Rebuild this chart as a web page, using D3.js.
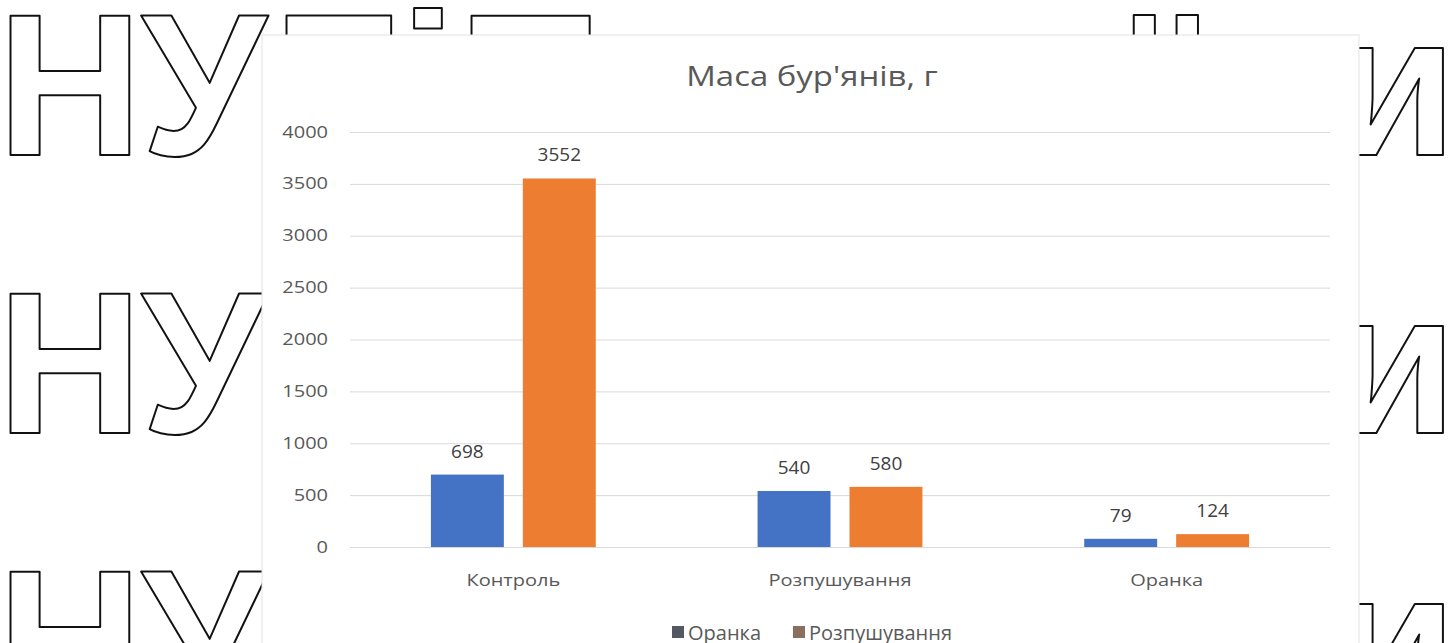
<!DOCTYPE html>
<html>
<head>
<meta charset="utf-8">
<script src="https://cdn.jsdelivr.net/npm/d3@7"></script>
<style>
  body { margin: 0; background: #fff; }
  svg { display: block; }
</style>
</head>
<body>
<div id="chart"></div>
<script>
// chart data
let categories = ["Контроль", "Розпушування", "Оранка"];
let seriesNames = ["Оранка", "Розпушування"];
let oranka = [698, 540, 79];
let rozpush = [3552, 580, 124];
let yTicks = [0, 500, 1000, 1500, 2000, 2500, 3000, 3500, 4000];

// background watermark "НУБіП України" - only the letters that peek out from behind the chart
let wmRows = [155, 433, 711];
let wmLeft = [["Н", -3], ["У", 141]];
let wmTop = [["Б", 273, "start"], ["і", 400, "start"], ["П", 458, "start"], ["ї", 1166, "middle"]];

let W = 1453, H = 643;
let svg = d3.select("#chart").append("svg")
  .attr("width", W).attr("height", H);

function wmLetter(ch, x, y, anchor) {
  svg.append("text")
    .attr("x", x).attr("y", y)
    .attr("text-anchor", anchor || "start")
    .style("font-family", "Liberation Sans")
    .style("font-weight", "bold")
    .style("font-size", "202px")
    .style("fill", "#fff")
    .style("stroke", "#111")
    .style("stroke-width", 2)
    .style("stroke-linejoin", "round")
    .text(ch);
}

wmRows.forEach(function (y, r) {
  wmLeft.forEach(function (l) { wmLetter(l[0], l[1], y); });
  wmLetter("и", 1457, y, "end");
  if (r == 0) wmTop.forEach(function (l) { wmLetter(l[0], l[1], y, l[2]); });
});

// chart box
svg.append("rect")
  .attr("x", 262).attr("y", 35)
  .attr("width", 1097).attr("height", 640)
  .style("fill", "#fff")
  .style("stroke", "#e2e2e2");

let font = "'Open Sans', 'Noto Sans', sans-serif";
let sx = 1.25; // the original text is a bit stretched sideways

svg.append("text")
  .attr("text-anchor", "middle")
  .attr("transform", "translate(812,86) scale(1.22,1)")
  .style("font-family", font)
  .style("font-size", "27px")
  .style("fill", "#595959")
  .text("Маса бур'янів, г");

let x0 = d3.scaleBand().domain(categories).range([350, 1330]);
let x1 = d3.scaleBand().domain(seriesNames).range([0, x0.bandwidth()])
  .paddingInner(0.2065).paddingOuter(0.88);
let y = d3.scaleLinear().domain([0, 4000]).range([547, 132]);

let yAxis = svg.append("g")
  .attr("transform", "translate(350,0)")
  .call(d3.axisLeft(y).tickValues(yTicks).tickSize(-980).tickFormat(d3.format("d")));
yAxis.select(".domain").remove();
yAxis.selectAll(".tick line").style("stroke", "#d9d9d9");
yAxis.selectAll(".tick text")
  .attr("x", 0)
  .attr("transform", "translate(-22,0) scale(" + sx + ",1)")
  .style("font-family", font).style("font-size", "16px").style("fill", "#595959");

let colors = {"Оранка": "#4472c4", "Розпушування": "#ed7d31"};
let series = [oranka, rozpush];

categories.forEach(function (c, i) {
  let g = svg.append("g").attr("transform", "translate(" + x0(c) + ",0)");
  seriesNames.forEach(function (s, j) {
    let v = series[j][i];
    g.append("rect")
      .attr("x", x1(s)).attr("y", y(v))
      .attr("width", x1.bandwidth()).attr("height", y(0) - y(v))
      .style("fill", colors[s]);
    g.append("text")
      .attr("x", x1(s) + x1.bandwidth() / 2).attr("y", y(v) - 17)
      .attr("text-anchor", "middle")
      .style("font-family", font).style("font-size", "19px").style("fill", "#404040")
      .text(v);
  });
  svg.append("text")
    .attr("transform", "translate(" + (x0(c) + x0.bandwidth() / 2) + ",586) scale(" + sx + ",1)")
    .attr("text-anchor", "middle")
    .style("font-family", font).style("font-size", "16px").style("fill", "#595959")
    .text(c);
});

// legend
let legendColors = ["#545862", "#8b6e5c"];
let lx = [672, 793];
seriesNames.forEach(function (s, j) {
  svg.append("rect")
    .attr("x", lx[j]).attr("y", 626).attr("width", 12).attr("height", 12)
    .style("fill", legendColors[j]);
  svg.append("text")
    .attr("x", lx[j] + 16).attr("y", 640)
    .style("font-family", font).style("font-size", "20px").style("fill", "#595959")
    .text(s);
});
</script>
</body>
</html>
